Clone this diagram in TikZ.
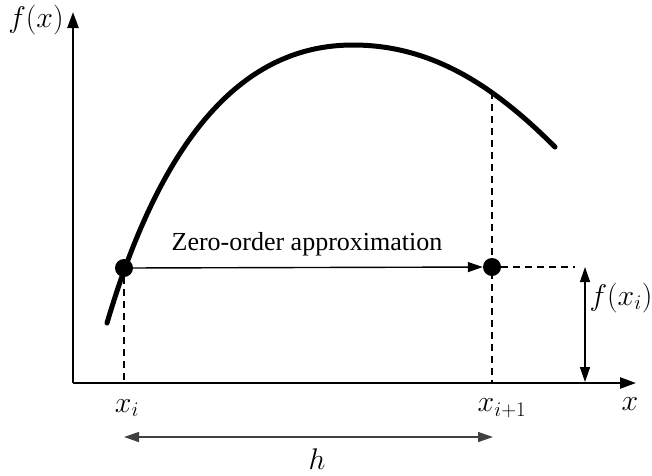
\documentclass[tikz,border=0pt]{standalone}
\usepackage{fontspec}
\setmainfont{Liberation Serif}
\usepackage{graphicx}
\usetikzlibrary{arrows.meta}
\newcommand{\biglab}[1]{\scalebox{1.2}{$#1$}}
\begin{document}
\begin{tikzpicture}[x=1pt,y=-1pt,
  axis/.style={line width=2.4pt,-{Triangle[length=16pt,width=11pt]}},
  curvestyle/.style={line width=5pt,line cap=round},
  guide/.style={line width=1.4pt,dash pattern=on 7pt off 5pt},
  thinarrow/.style={line width=1.4pt,-{Triangle[length=15pt,width=10pt]}},
  dblarrow/.style={line width=1.4pt,{Triangle[length=15pt,width=10pt]}-{Triangle[length=15pt,width=10pt]}},
  dot/.style={circle,fill=black,inner sep=0pt,minimum size=18pt},
  lbl/.style={font=\fontsize{24}{26}\selectfont,inner sep=0pt},
  txt/.style={font=\fontsize{26}{28}\selectfont,inner sep=0pt}]
\useasboundingbox (0,0) rectangle (652,475);
% axes
\coordinate (O) at (73,383);
\coordinate (Ytop) at (73,12);
\coordinate (Xend) at (636,383);
\draw[axis] (O) -- (Ytop);
\draw[axis] (O) -- (Xend);
% curve
\draw[curvestyle] (107,323) .. controls (170,110) and (260,45) .. (353,45)
                            .. controls (433,45) and (495,87) .. (555,147);
% points
\node[dot] (d1) at (124,268) {};
\node[dot] (d2) at (492,267) {};
\coordinate (top2) at (492,92);
\coordinate (b1) at (124,383);
\coordinate (b2) at (492,383);
\coordinate (hend) at (575,267);
\coordinate (va) at (585,267);
\coordinate (vb) at (585,382);
\draw[guide] (d1) -- (b1);
\draw[guide] (top2) -- (b2);
\draw[guide] (d2) -- (hend);
\draw[thinarrow] (d1) -- (d2);
\draw[dblarrow] (va) -- (vb);
% h arrow
\coordinate (hl) at (124,437);
\coordinate (hr) at (493,437);
\draw[dblarrow,draw=black!75] (hl) -- (hr);
% labels
\node[txt] (zo) at (307,244) {Zero-order approximation};
\node[lbl] (fx) at (36,20) {\biglab{f(x)}};
\node[lbl] (fxi) at (621,298) {\biglab{f(x_i)}};
\node[lbl] (xi) at (127,408) {\biglab{x_i}};
\node[lbl] (xi1) at (502,408) {\biglab{x_{i+1}}};
\node[lbl] (xl) at (630,404) {\biglab{x}};
\node[lbl] (hlab) at (317,459) {\biglab{h}};
\end{tikzpicture}
\end{document}
